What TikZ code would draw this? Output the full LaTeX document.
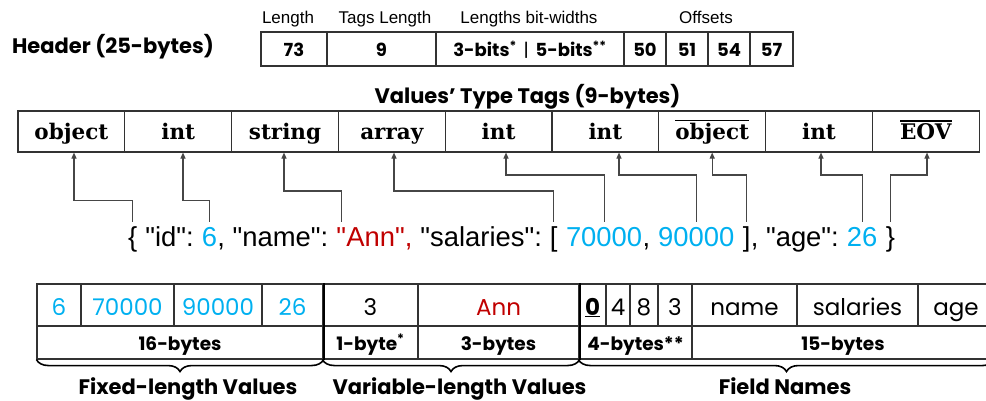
\documentclass[tikz,border=0pt]{standalone}
\usepackage{fontspec}
\setmainfont{Liberation Sans}
\newfontfamily\jsonfont{Liberation Sans}[Ligatures=TeXOff]
\newfontfamily\gothic{Poppins}
\newfontfamily\tagserif{DejaVu Serif}
\usetikzlibrary{arrows.meta,decorations.pathreplacing}
\definecolor{vcyan}{RGB}{0,176,240}
\definecolor{vred}{RGB}{192,0,0}
\definecolor{lin}{RGB}{50,50,50}
\definecolor{conncol}{RGB}{70,70,70}
\newcommand\jsp{\kern\fontdimen2\font}
\newcommand\ovl[1]{\leavevmode\vbox{\hrule height 1.3pt\kern1.8pt\hbox{#1}}}
\tikzset{
  cellbox/.style={draw=lin, line width=1.1pt, inner sep=0pt, anchor=center},
  hcell/.style={cellbox, minimum height=34pt, text height=17pt, text depth=1.6pt,
    font=\gothic\bfseries\fontsize{18}{21}\selectfont},
  tagcell/.style={cellbox, minimum width=106.8pt, minimum height=41pt, text height=20pt, text depth=4.4pt,
    font=\tagserif\bfseries\fontsize{21.5}{25}\selectfont},
  valcell/.style={cellbox, minimum height=42pt, text height=22pt, text depth=2pt,
    font=\gothic\fontsize{23}{27}\selectfont},
  bytecell/.style={cellbox, minimum height=33pt, text height=17pt, text depth=2pt,
    font=\gothic\bfseries\fontsize{18.5}{22}\selectfont},
  title/.style={anchor=base, inner sep=0pt, font=\gothic\bfseries\fontsize{21}{25}\selectfont},
  lbl/.style={anchor=base, inner sep=0pt, font=\fontsize{17}{20}\selectfont},
  json/.style={anchor=base west, inner sep=0pt, text height=24pt, text depth=6pt,
    font=\jsonfont\fontsize{27.4}{32}\selectfont},
  conn/.style={draw=conncol, line width=1.1pt, -{Triangle[length=6pt,width=5pt]}},
  thickline/.style={draw=black, line width=2pt},
  bracestyle/.style={draw=black, line width=1.6pt, decorate,
    decoration={brace, mirror, amplitude=12pt}},
}
\begin{document}
\begin{tikzpicture}[x=1pt,y=-1pt]
\useasboundingbox (0,0) rectangle (986,400);

% ---------- Header ----------
\node[title] (hdr) at (113,53.5) {Header (25-bytes)};
\node[lbl] (l1) at (288,23) {Length};
\node[lbl] (l2) at (385,23) {Tags Length};
\node[lbl] (l3) at (529,23) {Lengths bit-widths};
\node[lbl] (l4) at (706,23) {Offsets};

\node[hcell, minimum width=66pt]  (h1) at (294,49) {73};
\node[hcell, minimum width=109pt] (h2) at (381.5,49) {9};
\node[hcell, minimum width=188pt] (h3) at (530,49) {3-bits\textsuperscript{*}\, {\mdseries|}\, 5-bits\textsuperscript{**}};
\node[hcell, minimum width=42pt]  (h4) at (645,49) {50};
\node[hcell, minimum width=42pt]  (h5) at (687,49) {51};
\node[hcell, minimum width=42pt]  (h6) at (729,49) {54};
\node[hcell, minimum width=43pt]  (h7) at (771.5,49) {57};

% ---------- Type tags ----------
\node[title] (ttl) at (527.5,103) {Values’ Type Tags (9-bytes)};
\foreach \i/\txt in {1/object,2/int,3/string,4/array,5/int,6/int,7/{\ovl{object}},8/int,9/{\ovl{EOV}}}{
  \node[tagcell] (t\i) at ({18+106.8*(\i-0.5)},131.5) {\txt};
}

% ---------- JSON text ----------
\node[json] (j1) at (128,246) {\{};
\node[json] (j2) at (j1.base east) {\jsp"id":\jsp};
\node[json, text=vcyan] (j3) at (j2.base east) {6};
\node[json] (j4) at (j3.base east) {,\jsp"name":\jsp};
\node[json, text=vred] (j5) at (j4.base east) {"};
\node[json, text=vred] (j6) at (j5.base east) {Ann",};
\node[json] (j7) at (j6.base east) {\jsp"salaries":\jsp};
\node[json] (j8) at (j7.base east) {[};
\node[json] (j9) at (j8.base east) {\jsp};
\node[json, text=vcyan] (j10) at (j9.base east) {70000};
\node[json] (j11) at (j10.base east) {,\jsp};
\node[json, text=vcyan] (j12) at (j11.base east) {90000};
\node[json] (j13) at (j12.base east) {\jsp};
\node[json] (j14) at (j13.base east) {]};
\node[json] (j15) at (j14.base east) {,\jsp"age":\jsp};
\node[json, text=vcyan] (j16) at (j15.base east) {26};
\node[json] (j17) at (j16.base east) {\jsp};
\node[json] (j18) at (j17.base east) {\}};

% ---------- Connectors ----------
\coordinate (lv1) at (0,200.5);
\coordinate (lv2) at (0,191);
\coordinate (lv3) at (0,175);
\coordinate (a1) at ([xshift=2.6pt]t1.south);
\coordinate (a2) at ([xshift=4.8pt]t2.south);
\coordinate (a3) at ([xshift=-1pt]t3.south);
\coordinate (a4) at ([xshift=2.2pt]t4.south);
\coordinate (a5) at ([xshift=7.4pt]t5.south);
\coordinate (a6) at ([xshift=13.6pt]t6.south);
\coordinate (a7) at (t7.south);
\coordinate (a8) at ([xshift=2pt]t8.south);
\coordinate (a9) at ([xshift=1.2pt]t9.south);

\draw[conn] (j1.north)  |- (a1 |- lv1) -- (a1);
\draw[conn] (j3.north)  |- (a2 |- lv1) -- (a2);
\draw[conn] (j5.north)  |- (a3 |- lv2) -- (a3);
\draw[conn] (j8.north)  |- (a4 |- lv2) -- (a4);
\draw[conn] (j10.north) |- (a5 |- lv3) -- (a5);
\draw[conn] (j12.north) |- (a6 |- lv3) -- (a6);
\draw[conn] (j14.north) |- (a7 |- lv3) -- (a7);
\draw[conn] (j16.north) |- (a8 |- lv3) -- (a8);
\draw[conn] (j18.north) |- (a9 |- lv3) -- (a9);

% ---------- Bottom table ----------
\node[valcell, minimum width=44pt,  text=vcyan] (b1) at (59,305) {6};
\node[valcell, minimum width=93pt,  text=vcyan] (b2) at (127.5,305) {70000};
\node[valcell, minimum width=88pt,  text=vcyan] (b3) at (218,305) {90000};
\node[valcell, minimum width=61pt,  text=vcyan] (b4) at (292.5,305) {26};
\node[valcell, minimum width=95pt] (b5) at (370.5,305) {3};
\node[valcell, minimum width=161pt, text=vred] (b6) at (498.5,305) {Ann};
\node[valcell, minimum width=27pt] (b7) at (592.5,305) {\underline{\bfseries 0}};
\node[valcell, minimum width=24pt] (b8) at (618,305) {4};
\node[valcell, minimum width=28pt] (b9) at (644,305) {8};
\node[valcell, minimum width=34pt] (b10) at (675,305) {3};
\node[valcell, minimum width=105pt] (b11) at (744.5,305) {name};
\node[valcell, minimum width=121pt] (b12) at (857.5,305) {salaries};
\node[valcell, minimum width=76pt] (b13) at (956,305) {age};

\node[bytecell, minimum width=286pt] (c1) at (180,342.5) {16-bytes};
\node[bytecell, minimum width=95pt]  (c2) at (370.5,342.5) {1-byte\textsuperscript{*}};
\node[bytecell, minimum width=161pt] (c3) at (498.5,342.5) {3-bytes};
\node[bytecell, minimum width=113pt] (c4) at (635.5,342.5) {4-bytes**};
\node[bytecell, minimum width=302pt] (c5) at (843,342.5) {15-bytes};

\draw[thickline] (b4.north east) -- (c1.south east);
\draw[thickline] (b6.north east) -- (c3.south east);

\draw[bracestyle] (c1.south west) -- (c1.south east);
\draw[bracestyle] (c2.south west) -- (c3.south east);
\draw[bracestyle] (c4.south west) -- (c5.south east);

\node[title] (f1) at (188,394) {Fixed-length Values};
\node[title] (f2) at (459.5,394) {Variable-length Values};
\node[title] (f3) at (785,394) {Field Names};
\end{tikzpicture}
\end{document}
